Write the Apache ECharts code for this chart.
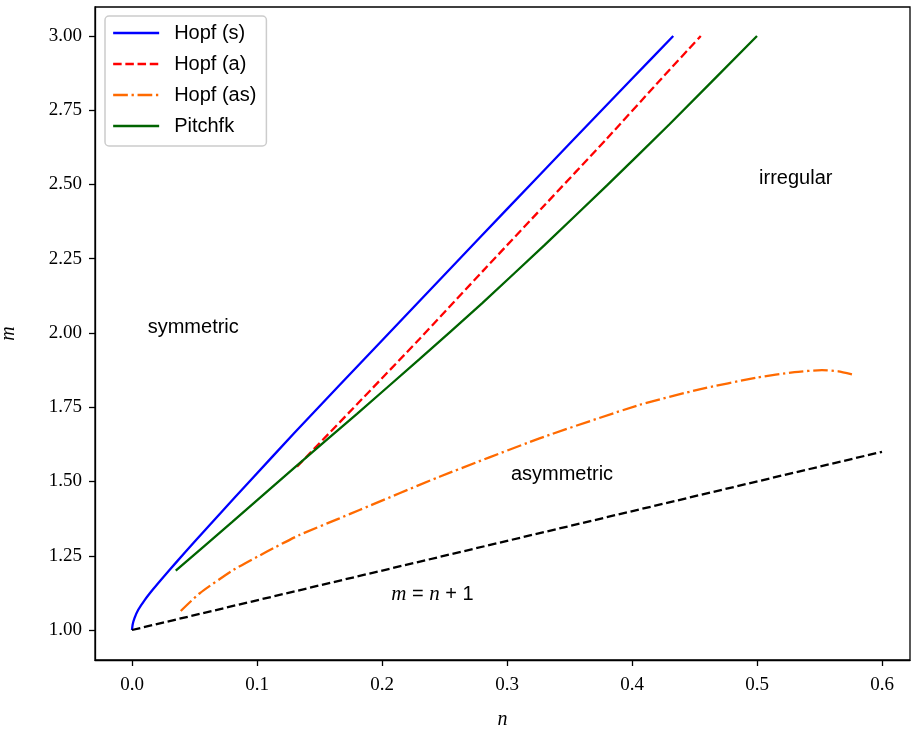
<!DOCTYPE html>
<html>
<head>
<meta charset="utf-8">
<script src="https://cdn.jsdelivr.net/npm/echarts@6/dist/echarts.min.js"></script>
<style>
  html, body { margin: 0; padding: 0; background: #fff; }
  #chart { width: 912px; height: 731px; }
</style>
</head>
<body>
<div id="chart"></div>
<script>
// curves, [n, m]
var hopfS = [[0, 1], [0.0005, 1.018], [0.002, 1.04], [0.005, 1.068], [0.01, 1.1], [0.017, 1.138],
  [0.025, 1.178], [0.035, 1.226], [0.05, 1.297], [0.07, 1.39], [0.094, 1.5], [0.13, 1.664],
  [0.2, 1.975], [0.254, 2.214], [0.3, 2.417], [0.35, 2.637], [0.4, 2.856], [0.433, 3.0]];
var hopfA = [[0.132, 1.55], [0.18, 1.76], [0.23, 1.98], [0.281, 2.21], [0.33, 2.43], [0.38, 2.655],
  [0.42, 2.84], [0.455, 3.0]];
var hopfAS = [[0.039, 1.064], [0.054, 1.123], [0.081, 1.202], [0.108, 1.264], [0.134, 1.32],
  [0.166, 1.376], [0.182, 1.404], [0.246, 1.516], [0.326, 1.645], [0.406, 1.758], [0.454, 1.81],
  [0.5, 1.85], [0.53, 1.868], [0.552, 1.875], [0.565, 1.871], [0.576, 1.861]];
var pitchfk = [[0.035, 1.2], [0.08, 1.363], [0.13, 1.547], [0.18, 1.728], [0.23, 1.912],
  [0.28, 2.1], [0.33, 2.296], [0.38, 2.497], [0.43, 2.703], [0.5, 3.0]];
var diagonal = [[0, 1], [0.6, 1.6]];

var xTicks = [0, 0.1, 0.2, 0.3, 0.4, 0.5, 0.6];
var yTicks = [1, 1.25, 1.5, 1.75, 2, 2.25, 2.5, 2.75, 3];

var notes = [
  {name: 'symmetric', value: [0.049, 2.02]},
  {name: 'irregular', value: [0.531, 2.52]},
  {name: 'asymmetric', value: [0.344, 1.522]},
  {name: 'diag', value: [0.2404, 1.118]}
];

var chart = echarts.init(document.getElementById('chart'));
var serif = 'Liberation Serif';
var sans = 'Liberation Sans';

function curve(name, data, color, dash) {
  return {
    name: name, type: 'line', data: data, showSymbol: false, symbol: 'none',
    smooth: 0.2,
    lineStyle: {color: color, width: 2.3, type: dash || 'solid'},
    itemStyle: {color: color}
  };
}

chart.setOption({
  animation: false,
  grid: {
    left: 95, right: 2, top: 7, bottom: 71,
    outerBoundsMode: 'none', containLabel: false,
    show: true, borderColor: '#000', borderWidth: 1.3
  },
  legend: {
    data: ['Hopf (s)', 'Hopf (a)', 'Hopf (as)', 'Pitchfk'],
    orient: 'vertical',
    left: 105, top: 16,
    padding: [7, 10, 10, 7],
    itemWidth: 46, itemHeight: 20, itemGap: 11,
    borderColor: '#cccccc', borderWidth: 1.5, borderRadius: 4,
    backgroundColor: '#fff',
    itemStyle: {opacity: 0},
    lineStyle: {width: 2.3},
    textStyle: {fontFamily: sans, fontSize: 20, color: '#000', padding: [0, 0, 0, 10]}
  },
  xAxis: {
    type: 'value', min: -0.0296, max: 0.6224,
    name: 'n', nameLocation: 'middle', nameGap: 50,
    nameTextStyle: {fontFamily: serif, fontStyle: 'italic', fontSize: 20, color: '#000'},
    axisLine: {onZero: false, lineStyle: {color: '#000', width: 1.3}},
    axisTick: {show: true, length: 6, lineStyle: {color: '#000', width: 1.3}, customValues: xTicks},
    axisLabel: {fontFamily: serif, fontSize: 19, color: '#000', margin: 16, customValues: xTicks,
      formatter: function (v) { return v.toFixed(1); }},
    splitLine: {show: false}
  },
  yAxis: {
    type: 'value', min: 0.899, max: 3.0976,
    name: 'm', nameLocation: 'middle', nameGap: 76,
    nameTextStyle: {fontFamily: serif, fontStyle: 'italic', fontSize: 20, color: '#000'},
    axisLine: {show: true, onZero: false, lineStyle: {color: '#000', width: 1.3}},
    axisTick: {show: true, length: 6, lineStyle: {color: '#000', width: 1.3}, customValues: yTicks},
    axisLabel: {fontFamily: serif, fontSize: 19, color: '#000', margin: 13, customValues: yTicks,
      formatter: function (v) { return v.toFixed(2); }},
    splitLine: {show: false}
  },
  series: [
    curve('Hopf (s)', hopfS, '#0000ff'),
    curve('Hopf (a)', hopfA, '#ff0000', [8.5, 3.7]),
    curve('Hopf (as)', hopfAS, '#ff6a00', [14.7, 3.7, 2.3, 3.7]),
    curve('Pitchfk', pitchfk, '#006400'),
    {
      name: 'm=n+1', type: 'line', data: diagonal, showSymbol: false, symbol: 'none',
      lineStyle: {color: '#000', width: 2.3, type: [8.5, 3.7]}, itemStyle: {color: '#000'}
    },
    {
      name: 'notes', type: 'scatter', data: notes, symbolSize: 0, silent: true,
      itemStyle: {opacity: 1},
      label: {
        show: true, position: 'inside', opacity: 1,
        fontFamily: sans, fontSize: 20, color: '#000',
        formatter: function (p) {
          if (p.name === 'diag') return '{i|m} = {i|n} + 1';
          return p.name;
        },
        rich: {i: {fontFamily: serif, fontStyle: 'italic', fontSize: 21, color: '#000'}}
      }
    }
  ]
});
</script>
</body>
</html>
